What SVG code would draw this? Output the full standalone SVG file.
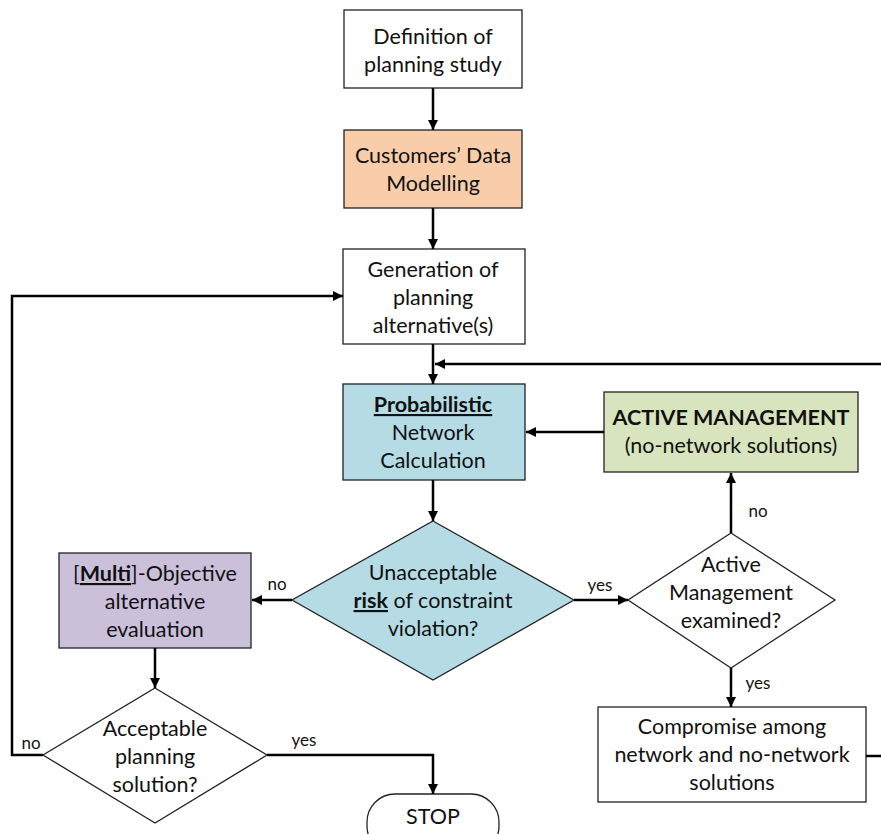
<svg xmlns="http://www.w3.org/2000/svg" width="881" height="834" viewBox="0 0 881 834">
<defs>
<marker id="arr" viewBox="0 0 10 10" refX="10" refY="5" markerUnits="userSpaceOnUse" markerWidth="11" markerHeight="10" orient="auto">
<path d="M0,0 L10,5 L0,10 z" fill="#000"/>
</marker>
<style>
.box{stroke:#222;stroke-width:1.3}
.t{font-family:Lato,"Open Sans","Liberation Sans",sans-serif;font-size:21.5px;fill:#111;text-anchor:middle}
.s{font-family:Lato,"Open Sans","Liberation Sans",sans-serif;font-size:17px;fill:#111;text-anchor:middle}
.b{font-weight:bold}
.u{font-weight:bold;text-decoration:underline}
.c{fill:none;stroke:#000;stroke-width:2.5}
</style>
</defs>
<rect width="881" height="834" fill="#fff"/>

<g id="definition">
<rect class="box" x="344" y="10" width="178" height="78" fill="#fff"/>
<text class="t" x="433" y="44">Definition of</text>
<text class="t" x="433" y="72">planning study</text>
</g>

<g id="customers">
<rect class="box" x="344" y="130" width="178" height="78" fill="#F9CCAA"/>
<text class="t" x="433" y="163">Customers’ Data</text>
<text class="t" x="433" y="191">Modelling</text>
</g>

<g id="generation">
<rect class="box" x="343" y="249" width="182" height="95" fill="#fff"/>
<text class="t" x="433" y="277">Generation of</text>
<text class="t" x="433" y="305">planning</text>
<text class="t" x="433" y="333">alternative(s)</text>
</g>

<g id="probabilistic">
<rect class="box" x="343" y="384" width="182" height="96" fill="#B5DCE4"/>
<text class="t" x="433" y="412"><tspan class="u">Probabilistic</tspan></text>
<text class="t" x="433" y="440">Network</text>
<text class="t" x="433" y="468">Calculation</text>
</g>

<g id="active-management">
<rect class="box" x="604" y="392" width="254" height="80" fill="#D7E4BD"/>
<text class="t b" x="731" y="425">ACTIVE MANAGEMENT</text>
<text class="t" x="731" y="453">(no-network solutions)</text>
</g>

<g id="unacceptable">
<polygon class="box" points="433,521 574,600 433,680 292,600" fill="#B5DCE4"/>
<text class="t" x="433" y="580">Unacceptable</text>
<text class="t" x="433" y="608"><tspan class="u">risk</tspan> of constraint</text>
<text class="t" x="433" y="636">violation?</text>
</g>

<g id="multi-objective">
<rect class="box" x="59" y="553" width="192" height="95" fill="#CBC0DA"/>
<text class="t" x="155" y="581">[<tspan class="u">Multi</tspan>]-Objective</text>
<text class="t" x="155" y="609">alternative</text>
<text class="t" x="155" y="637">evaluation</text>
</g>

<g id="active-examined">
<polygon class="box" points="731,533 835,600 731,668 628,600" fill="#fff"/>
<text class="t" x="731" y="572">Active</text>
<text class="t" x="731" y="600">Management</text>
<text class="t" x="731" y="628">examined?</text>
</g>

<g id="compromise">
<rect class="box" x="598" y="707" width="268" height="95" fill="#fff"/>
<text class="t" x="732" y="734">Compromise among</text>
<text class="t" x="732" y="762">network and no-network</text>
<text class="t" x="732" y="790">solutions</text>
</g>

<g id="acceptable">
<polygon class="box" points="155,688 267,755 155,823 43,755" fill="#fff"/>
<text class="t" x="155" y="736">Acceptable</text>
<text class="t" x="155" y="764">planning</text>
<text class="t" x="155" y="792">solution?</text>
</g>

<g id="stop">
<rect class="box" x="367" y="794" width="132" height="60" rx="28" ry="28" fill="#fff"/>
<text class="t" x="433" y="824">STOP</text>
</g>

<g id="connectors">
<path class="c" d="M433,88 V130" marker-end="url(#arr)"/>
<path class="c" d="M433,208 V249" marker-end="url(#arr)"/>
<path class="c" d="M433,344 V384" marker-end="url(#arr)"/>
<path class="c" d="M881,364 H435" marker-end="url(#arr)"/>
<path class="c" d="M604,432 H526" marker-end="url(#arr)"/>
<path class="c" d="M433,480 V521" marker-end="url(#arr)"/>
<path class="c" d="M292,600 H252" marker-end="url(#arr)"/>
<path class="c" d="M574,600 H628" marker-end="url(#arr)"/>
<path class="c" d="M731,533 V473" marker-end="url(#arr)"/>
<path class="c" d="M731,668 V707" marker-end="url(#arr)"/>
<path class="c" d="M866,756 H881"/>
<path class="c" d="M155,648 V688" marker-end="url(#arr)"/>
<path class="c" d="M43,755 H12 V296 H343" marker-end="url(#arr)"/>
<path class="c" d="M267,755 H433 V794" marker-end="url(#arr)"/>
<text class="s" x="277" y="590">no</text>
<text class="s" x="600" y="591">yes</text>
<text class="s" x="758" y="517">no</text>
<text class="s" x="758" y="689">yes</text>
<text class="s" x="31" y="749">no</text>
<text class="s" x="304" y="746">yes</text>
</g>
</svg>
